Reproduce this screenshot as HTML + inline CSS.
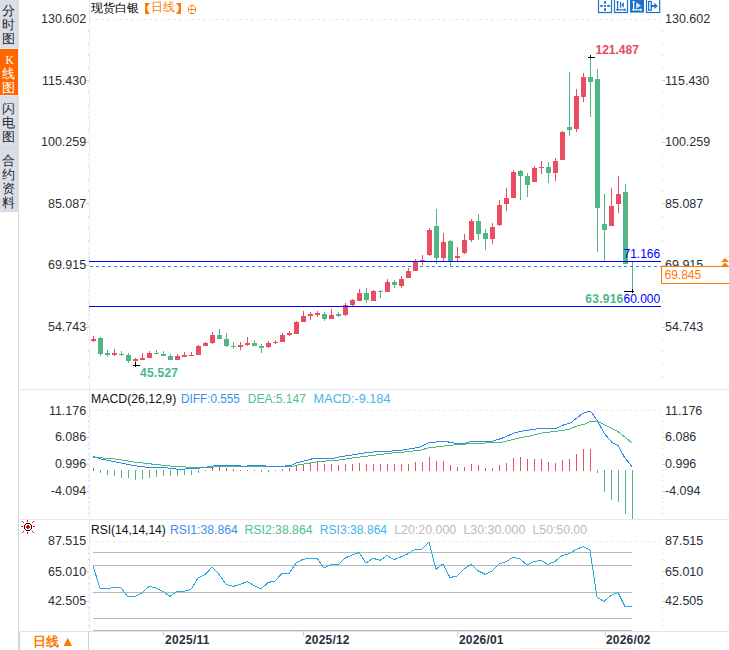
<!DOCTYPE html>
<html><head><meta charset="utf-8">
<style>
html,body{margin:0;padding:0;width:729px;height:650px;overflow:hidden;background:#fff;}
body{font-family:"Liberation Sans",sans-serif;position:relative;}
.sc{position:absolute;left:0;width:17px;text-align:center;font-size:13px;line-height:14.15px;color:#232833;font-weight:500;}
svg{position:absolute;left:0;top:0;}
</style></head><body>
<div style="position:absolute;left:0;top:0;width:19px;height:48px;background:#dcdee6"></div>
<div style="position:absolute;left:0;top:48px;width:19px;height:1px;background:#e6edf6"></div>
<div style="position:absolute;left:0;top:49px;width:18px;height:46px;background:#ff6600"></div>
<div style="position:absolute;left:18px;top:49px;width:1px;height:46px;background:#e8f0fa"></div>
<div style="position:absolute;left:0;top:95px;width:19px;height:1px;background:#e6edf6"></div>
<div style="position:absolute;left:0;top:96px;width:19px;height:51px;background:#dcdee6"></div>
<div style="position:absolute;left:0;top:147px;width:19px;height:1px;background:#cdd5df"></div>
<div style="position:absolute;left:0;top:148px;width:19px;height:63px;background:#dcdee6"></div>
<div class="sc" style="top:4px;">分<br>时<br>图</div>
<div class="sc" style="top:66.6px;color:#fff">线<br>图</div>
<div style="position:absolute;left:5.5px;top:53px;font-family:'Liberation Serif',serif;font-size:11.5px;line-height:14px;color:#fff;font-weight:normal">K</div>
<div class="sc" style="top:101.6px;">闪<br>电<br>图</div>
<div class="sc" style="top:153.7px;">合<br>约<br>资<br>料</div>
<svg width="729" height="650" viewBox="0 0 729 650" shape-rendering="crispEdges">
<!-- frame lines -->
<rect x="0" y="211" width="19" height="1" fill="#d3dae3"/><rect x="18" y="211" width="1" height="439" fill="#d3dae3"/>
<rect x="18" y="389" width="711" height="1" fill="#e6ebf1"/>
<rect x="18" y="519" width="711" height="1" fill="#e6ebf1"/>
<rect x="89" y="0" width="1" height="631" fill="#e6ecf3"/>
<rect x="18" y="631" width="711" height="1" fill="#dde3ea"/>
<rect x="88" y="631" width="1" height="19" fill="#c8d0db"/>
<rect x="521" y="648" width="113" height="1" fill="#eef1f5"/>
<!-- grid dashed -->
<g stroke="#e8ecf2" stroke-width="1" stroke-dasharray="3 3">
<line x1="89" y1="19.5" x2="661" y2="19.5"/>
<line x1="89" y1="410.5" x2="661" y2="410.5"/>
<line x1="89" y1="541.5" x2="661" y2="541.5"/>
</g>
<rect x="88" y="31" width="1" height="1" fill="#c9d0d8"/>
<rect x="662" y="31" width="1" height="1" fill="#c9d0d8"/>
<rect x="88" y="43" width="1" height="1" fill="#c9d0d8"/>
<rect x="662" y="43" width="1" height="1" fill="#c9d0d8"/>
<rect x="88" y="55" width="1" height="1" fill="#c9d0d8"/>
<rect x="662" y="55" width="1" height="1" fill="#c9d0d8"/>
<rect x="88" y="68" width="1" height="1" fill="#c9d0d8"/>
<rect x="662" y="68" width="1" height="1" fill="#c9d0d8"/>
<rect x="86" y="80" width="3" height="1" fill="#c9d0d8"/>
<rect x="662" y="80" width="3" height="1" fill="#c9d0d8"/>
<rect x="88" y="92" width="1" height="1" fill="#c9d0d8"/>
<rect x="662" y="92" width="1" height="1" fill="#c9d0d8"/>
<rect x="88" y="105" width="1" height="1" fill="#c9d0d8"/>
<rect x="662" y="105" width="1" height="1" fill="#c9d0d8"/>
<rect x="88" y="117" width="1" height="1" fill="#c9d0d8"/>
<rect x="662" y="117" width="1" height="1" fill="#c9d0d8"/>
<rect x="88" y="129" width="1" height="1" fill="#c9d0d8"/>
<rect x="662" y="129" width="1" height="1" fill="#c9d0d8"/>
<rect x="86" y="142" width="3" height="1" fill="#c9d0d8"/>
<rect x="662" y="142" width="3" height="1" fill="#c9d0d8"/>
<rect x="88" y="154" width="1" height="1" fill="#c9d0d8"/>
<rect x="662" y="154" width="1" height="1" fill="#c9d0d8"/>
<rect x="88" y="166" width="1" height="1" fill="#c9d0d8"/>
<rect x="662" y="166" width="1" height="1" fill="#c9d0d8"/>
<rect x="88" y="179" width="1" height="1" fill="#c9d0d8"/>
<rect x="662" y="179" width="1" height="1" fill="#c9d0d8"/>
<rect x="88" y="191" width="1" height="1" fill="#c9d0d8"/>
<rect x="662" y="191" width="1" height="1" fill="#c9d0d8"/>
<rect x="86" y="203" width="3" height="1" fill="#c9d0d8"/>
<rect x="662" y="203" width="3" height="1" fill="#c9d0d8"/>
<rect x="88" y="216" width="1" height="1" fill="#c9d0d8"/>
<rect x="662" y="216" width="1" height="1" fill="#c9d0d8"/>
<rect x="88" y="228" width="1" height="1" fill="#c9d0d8"/>
<rect x="662" y="228" width="1" height="1" fill="#c9d0d8"/>
<rect x="88" y="240" width="1" height="1" fill="#c9d0d8"/>
<rect x="662" y="240" width="1" height="1" fill="#c9d0d8"/>
<rect x="88" y="253" width="1" height="1" fill="#c9d0d8"/>
<rect x="662" y="253" width="1" height="1" fill="#c9d0d8"/>
<rect x="86" y="265" width="3" height="1" fill="#c9d0d8"/>
<rect x="662" y="265" width="3" height="1" fill="#c9d0d8"/>
<rect x="88" y="277" width="1" height="1" fill="#c9d0d8"/>
<rect x="662" y="277" width="1" height="1" fill="#c9d0d8"/>
<rect x="88" y="290" width="1" height="1" fill="#c9d0d8"/>
<rect x="662" y="290" width="1" height="1" fill="#c9d0d8"/>
<rect x="88" y="302" width="1" height="1" fill="#c9d0d8"/>
<rect x="662" y="302" width="1" height="1" fill="#c9d0d8"/>
<rect x="88" y="314" width="1" height="1" fill="#c9d0d8"/>
<rect x="662" y="314" width="1" height="1" fill="#c9d0d8"/>
<rect x="86" y="327" width="3" height="1" fill="#c9d0d8"/>
<rect x="662" y="327" width="3" height="1" fill="#c9d0d8"/>
<rect x="88" y="339" width="1" height="1" fill="#c9d0d8"/>
<rect x="662" y="339" width="1" height="1" fill="#c9d0d8"/>
<rect x="88" y="351" width="1" height="1" fill="#c9d0d8"/>
<rect x="662" y="351" width="1" height="1" fill="#c9d0d8"/>
<rect x="88" y="363" width="1" height="1" fill="#c9d0d8"/>
<rect x="662" y="363" width="1" height="1" fill="#c9d0d8"/>
<rect x="88" y="376" width="1" height="1" fill="#c9d0d8"/>
<rect x="662" y="376" width="1" height="1" fill="#c9d0d8"/>
<rect x="88" y="416" width="1" height="1" fill="#c9d0d8"/>
<rect x="662" y="416" width="1" height="1" fill="#c9d0d8"/>
<rect x="88" y="421" width="1" height="1" fill="#c9d0d8"/>
<rect x="662" y="421" width="1" height="1" fill="#c9d0d8"/>
<rect x="88" y="426" width="1" height="1" fill="#c9d0d8"/>
<rect x="662" y="426" width="1" height="1" fill="#c9d0d8"/>
<rect x="88" y="432" width="1" height="1" fill="#c9d0d8"/>
<rect x="662" y="432" width="1" height="1" fill="#c9d0d8"/>
<rect x="86" y="437" width="3" height="1" fill="#c9d0d8"/>
<rect x="662" y="437" width="3" height="1" fill="#c9d0d8"/>
<rect x="88" y="443" width="1" height="1" fill="#c9d0d8"/>
<rect x="662" y="443" width="1" height="1" fill="#c9d0d8"/>
<rect x="88" y="448" width="1" height="1" fill="#c9d0d8"/>
<rect x="662" y="448" width="1" height="1" fill="#c9d0d8"/>
<rect x="88" y="454" width="1" height="1" fill="#c9d0d8"/>
<rect x="662" y="454" width="1" height="1" fill="#c9d0d8"/>
<rect x="88" y="459" width="1" height="1" fill="#c9d0d8"/>
<rect x="662" y="459" width="1" height="1" fill="#c9d0d8"/>
<rect x="86" y="464" width="3" height="1" fill="#c9d0d8"/>
<rect x="662" y="464" width="3" height="1" fill="#c9d0d8"/>
<rect x="88" y="470" width="1" height="1" fill="#c9d0d8"/>
<rect x="662" y="470" width="1" height="1" fill="#c9d0d8"/>
<rect x="88" y="475" width="1" height="1" fill="#c9d0d8"/>
<rect x="662" y="475" width="1" height="1" fill="#c9d0d8"/>
<rect x="88" y="480" width="1" height="1" fill="#c9d0d8"/>
<rect x="662" y="480" width="1" height="1" fill="#c9d0d8"/>
<rect x="88" y="486" width="1" height="1" fill="#c9d0d8"/>
<rect x="662" y="486" width="1" height="1" fill="#c9d0d8"/>
<rect x="86" y="491" width="3" height="1" fill="#c9d0d8"/>
<rect x="662" y="491" width="3" height="1" fill="#c9d0d8"/>
<rect x="88" y="497" width="1" height="1" fill="#c9d0d8"/>
<rect x="662" y="497" width="1" height="1" fill="#c9d0d8"/>
<rect x="88" y="502" width="1" height="1" fill="#c9d0d8"/>
<rect x="662" y="502" width="1" height="1" fill="#c9d0d8"/>
<rect x="88" y="508" width="1" height="1" fill="#c9d0d8"/>
<rect x="662" y="508" width="1" height="1" fill="#c9d0d8"/>
<rect x="88" y="513" width="1" height="1" fill="#c9d0d8"/>
<rect x="662" y="513" width="1" height="1" fill="#c9d0d8"/>
<rect x="88" y="547" width="1" height="1" fill="#c9d0d8"/>
<rect x="662" y="547" width="1" height="1" fill="#c9d0d8"/>
<rect x="88" y="553" width="1" height="1" fill="#c9d0d8"/>
<rect x="662" y="553" width="1" height="1" fill="#c9d0d8"/>
<rect x="88" y="559" width="1" height="1" fill="#c9d0d8"/>
<rect x="662" y="559" width="1" height="1" fill="#c9d0d8"/>
<rect x="88" y="565" width="1" height="1" fill="#c9d0d8"/>
<rect x="662" y="565" width="1" height="1" fill="#c9d0d8"/>
<rect x="86" y="571" width="3" height="1" fill="#c9d0d8"/>
<rect x="662" y="571" width="3" height="1" fill="#c9d0d8"/>
<rect x="88" y="577" width="1" height="1" fill="#c9d0d8"/>
<rect x="662" y="577" width="1" height="1" fill="#c9d0d8"/>
<rect x="88" y="583" width="1" height="1" fill="#c9d0d8"/>
<rect x="662" y="583" width="1" height="1" fill="#c9d0d8"/>
<rect x="88" y="589" width="1" height="1" fill="#c9d0d8"/>
<rect x="662" y="589" width="1" height="1" fill="#c9d0d8"/>
<rect x="88" y="595" width="1" height="1" fill="#c9d0d8"/>
<rect x="662" y="595" width="1" height="1" fill="#c9d0d8"/>
<rect x="86" y="601" width="3" height="1" fill="#c9d0d8"/>
<rect x="662" y="601" width="3" height="1" fill="#c9d0d8"/>
<rect x="88" y="607" width="1" height="1" fill="#c9d0d8"/>
<rect x="662" y="607" width="1" height="1" fill="#c9d0d8"/>
<rect x="88" y="613" width="1" height="1" fill="#c9d0d8"/>
<rect x="662" y="613" width="1" height="1" fill="#c9d0d8"/>
<rect x="88" y="619" width="1" height="1" fill="#c9d0d8"/>
<rect x="662" y="619" width="1" height="1" fill="#c9d0d8"/>
<rect x="88" y="625" width="1" height="1" fill="#c9d0d8"/>
<rect x="662" y="625" width="1" height="1" fill="#c9d0d8"/>
<!-- candles -->
<rect x="93" y="336" width="1" height="6" fill="#ea4d62"/>
<rect x="91" y="339" width="5" height="2" fill="#ea4d62"/>
<rect x="100" y="337" width="1" height="19" fill="#50b686"/>
<rect x="98" y="338" width="5" height="16" fill="#50b686"/>
<rect x="107" y="350" width="1" height="7" fill="#50b686"/>
<rect x="105" y="353" width="5" height="2" fill="#50b686"/>
<rect x="114" y="349" width="1" height="7" fill="#ea4d62"/>
<rect x="112" y="353" width="5" height="2" fill="#ea4d62"/>
<rect x="121" y="351" width="1" height="5" fill="#50b686"/>
<rect x="119" y="353.5" width="5" height="1" fill="#50b686"/>
<rect x="128" y="353" width="1" height="10" fill="#50b686"/>
<rect x="126" y="355" width="5" height="6" fill="#50b686"/>
<rect x="135" y="358" width="1" height="4" fill="#ea4d62"/>
<rect x="133" y="359" width="5" height="2" fill="#ea4d62"/>
<rect x="142" y="353" width="1" height="7" fill="#ea4d62"/>
<rect x="140" y="358" width="5" height="2" fill="#ea4d62"/>
<rect x="149" y="351" width="1" height="7" fill="#ea4d62"/>
<rect x="147" y="353" width="5" height="5" fill="#ea4d62"/>
<rect x="156" y="350" width="1" height="4" fill="#50b686"/>
<rect x="154" y="353" width="5" height="1" fill="#50b686"/>
<rect x="163" y="351" width="1" height="5" fill="#50b686"/>
<rect x="161" y="354" width="5" height="2" fill="#50b686"/>
<rect x="170" y="354" width="1" height="6" fill="#50b686"/>
<rect x="168" y="356" width="5" height="4" fill="#50b686"/>
<rect x="177" y="354" width="1" height="6" fill="#ea4d62"/>
<rect x="175" y="356" width="5" height="4" fill="#ea4d62"/>
<rect x="184" y="352" width="1" height="5" fill="#ea4d62"/>
<rect x="182" y="355" width="5" height="2" fill="#ea4d62"/>
<rect x="191" y="352" width="1" height="4" fill="#ea4d62"/>
<rect x="189" y="355" width="5" height="1" fill="#ea4d62"/>
<rect x="198" y="345" width="1" height="10" fill="#ea4d62"/>
<rect x="196" y="346" width="5" height="9" fill="#ea4d62"/>
<rect x="205" y="342" width="1" height="4" fill="#ea4d62"/>
<rect x="203" y="343" width="5" height="3" fill="#ea4d62"/>
<rect x="212" y="332" width="1" height="12" fill="#ea4d62"/>
<rect x="210" y="335" width="5" height="8" fill="#ea4d62"/>
<rect x="219" y="329" width="1" height="10" fill="#50b686"/>
<rect x="217" y="335" width="5" height="4" fill="#50b686"/>
<rect x="226" y="333" width="1" height="14" fill="#50b686"/>
<rect x="224" y="339" width="5" height="7" fill="#50b686"/>
<rect x="233" y="342" width="1" height="7" fill="#50b686"/>
<rect x="231" y="346" width="5" height="1" fill="#50b686"/>
<rect x="240" y="342" width="1" height="8" fill="#ea4d62"/>
<rect x="238" y="345" width="5" height="2" fill="#ea4d62"/>
<rect x="247" y="337" width="1" height="9" fill="#ea4d62"/>
<rect x="245" y="343" width="5" height="2" fill="#ea4d62"/>
<rect x="254" y="340" width="1" height="6" fill="#50b686"/>
<rect x="252" y="343" width="5" height="3" fill="#50b686"/>
<rect x="261" y="344" width="1" height="9" fill="#50b686"/>
<rect x="259" y="346" width="5" height="2" fill="#50b686"/>
<rect x="268" y="341" width="1" height="7" fill="#ea4d62"/>
<rect x="266" y="343" width="5" height="4" fill="#ea4d62"/>
<rect x="275" y="340" width="1" height="4" fill="#ea4d62"/>
<rect x="273" y="342" width="5" height="1" fill="#ea4d62"/>
<rect x="282" y="333" width="1" height="9" fill="#ea4d62"/>
<rect x="280" y="335" width="5" height="7" fill="#ea4d62"/>
<rect x="289" y="331" width="1" height="5" fill="#ea4d62"/>
<rect x="287" y="333" width="5" height="2" fill="#ea4d62"/>
<rect x="296" y="321" width="1" height="13" fill="#ea4d62"/>
<rect x="294" y="322" width="5" height="12" fill="#ea4d62"/>
<rect x="303" y="311" width="1" height="11" fill="#ea4d62"/>
<rect x="301" y="316" width="5" height="6" fill="#ea4d62"/>
<rect x="310" y="312" width="1" height="8" fill="#ea4d62"/>
<rect x="308" y="314" width="5" height="2" fill="#ea4d62"/>
<rect x="317" y="311" width="1" height="6" fill="#ea4d62"/>
<rect x="315" y="313" width="5" height="2" fill="#ea4d62"/>
<rect x="324" y="312" width="1" height="9" fill="#50b686"/>
<rect x="322" y="314" width="5" height="5" fill="#50b686"/>
<rect x="331" y="309" width="1" height="10" fill="#ea4d62"/>
<rect x="329" y="315" width="5" height="4" fill="#ea4d62"/>
<rect x="338" y="312" width="1" height="5" fill="#50b686"/>
<rect x="336" y="314" width="5" height="2" fill="#50b686"/>
<rect x="345" y="303" width="1" height="13" fill="#ea4d62"/>
<rect x="343" y="305" width="5" height="10" fill="#ea4d62"/>
<rect x="352" y="299" width="1" height="7" fill="#ea4d62"/>
<rect x="350" y="300" width="5" height="5" fill="#ea4d62"/>
<rect x="359" y="289" width="1" height="12" fill="#ea4d62"/>
<rect x="357" y="293" width="5" height="8" fill="#ea4d62"/>
<rect x="366" y="288" width="1" height="15" fill="#50b686"/>
<rect x="364" y="293" width="5" height="7" fill="#50b686"/>
<rect x="373" y="290" width="1" height="11" fill="#ea4d62"/>
<rect x="371" y="291" width="5" height="10" fill="#ea4d62"/>
<rect x="380" y="290" width="1" height="8" fill="#50b686"/>
<rect x="378" y="291" width="5" height="1" fill="#50b686"/>
<rect x="387" y="279" width="1" height="13" fill="#ea4d62"/>
<rect x="385" y="282" width="5" height="10" fill="#ea4d62"/>
<rect x="394" y="280" width="1" height="8" fill="#50b686"/>
<rect x="392" y="282" width="5" height="3" fill="#50b686"/>
<rect x="401" y="276" width="1" height="12" fill="#ea4d62"/>
<rect x="399" y="279" width="5" height="7" fill="#ea4d62"/>
<rect x="408" y="268" width="1" height="10" fill="#ea4d62"/>
<rect x="406" y="271" width="5" height="7" fill="#ea4d62"/>
<rect x="415" y="259" width="1" height="12" fill="#ea4d62"/>
<rect x="413" y="261.5" width="5" height="9.5" fill="#ea4d62"/>
<rect x="422" y="255" width="1" height="10" fill="#ea4d62"/>
<rect x="420" y="260" width="5" height="1" fill="#ea4d62"/>
<rect x="429" y="228" width="1" height="28" fill="#ea4d62"/>
<rect x="427" y="230" width="5" height="25" fill="#ea4d62"/>
<rect x="436" y="209" width="1" height="55" fill="#50b686"/>
<rect x="434" y="226" width="5" height="32" fill="#50b686"/>
<rect x="443" y="233" width="1" height="28" fill="#ea4d62"/>
<rect x="441" y="242" width="5" height="16" fill="#ea4d62"/>
<rect x="450" y="240" width="1" height="26" fill="#50b686"/>
<rect x="448" y="241" width="5" height="20" fill="#50b686"/>
<rect x="457" y="247" width="1" height="14" fill="#ea4d62"/>
<rect x="455" y="256" width="5" height="2" fill="#ea4d62"/>
<rect x="464" y="234" width="1" height="20" fill="#ea4d62"/>
<rect x="462" y="240" width="5" height="13" fill="#ea4d62"/>
<rect x="471" y="219" width="1" height="23" fill="#ea4d62"/>
<rect x="469" y="221" width="5" height="19" fill="#ea4d62"/>
<rect x="478" y="214" width="1" height="26" fill="#50b686"/>
<rect x="476" y="221" width="5" height="13" fill="#50b686"/>
<rect x="485" y="229" width="1" height="21" fill="#50b686"/>
<rect x="483" y="233" width="5" height="6" fill="#50b686"/>
<rect x="492" y="223" width="1" height="21" fill="#ea4d62"/>
<rect x="490" y="227" width="5" height="12" fill="#ea4d62"/>
<rect x="499" y="200" width="1" height="26" fill="#ea4d62"/>
<rect x="497" y="205" width="5" height="20" fill="#ea4d62"/>
<rect x="506" y="188" width="1" height="23" fill="#ea4d62"/>
<rect x="504" y="198" width="5" height="6" fill="#ea4d62"/>
<rect x="513" y="170" width="1" height="28" fill="#ea4d62"/>
<rect x="511" y="172" width="5" height="26" fill="#ea4d62"/>
<rect x="520" y="170" width="1" height="30" fill="#50b686"/>
<rect x="518" y="171" width="5" height="5" fill="#50b686"/>
<rect x="527" y="173" width="1" height="24" fill="#50b686"/>
<rect x="525" y="176" width="5" height="9" fill="#50b686"/>
<rect x="534" y="166" width="1" height="16" fill="#ea4d62"/>
<rect x="532" y="168" width="5" height="14" fill="#ea4d62"/>
<rect x="541" y="161" width="1" height="13" fill="#ea4d62"/>
<rect x="539" y="167" width="5" height="1" fill="#ea4d62"/>
<rect x="548" y="162" width="1" height="21" fill="#50b686"/>
<rect x="546" y="167" width="5" height="6" fill="#50b686"/>
<rect x="555" y="158" width="1" height="23" fill="#ea4d62"/>
<rect x="553" y="161" width="5" height="12" fill="#ea4d62"/>
<rect x="562" y="131" width="1" height="29" fill="#ea4d62"/>
<rect x="560" y="132" width="5" height="28" fill="#ea4d62"/>
<rect x="569" y="72" width="1" height="64" fill="#50b686"/>
<rect x="567" y="127" width="5" height="3" fill="#50b686"/>
<rect x="576" y="89" width="1" height="43" fill="#ea4d62"/>
<rect x="574" y="96" width="5" height="33" fill="#ea4d62"/>
<rect x="583" y="73" width="1" height="29" fill="#ea4d62"/>
<rect x="581" y="77" width="5" height="20" fill="#ea4d62"/>
<rect x="590" y="56" width="1" height="61" fill="#50b686"/>
<rect x="588" y="77" width="5" height="5" fill="#50b686"/>
<rect x="597" y="69" width="1" height="183" fill="#50b686"/>
<rect x="595" y="79" width="5" height="129" fill="#50b686"/>
<rect x="604" y="194" width="1" height="67" fill="#50b686"/>
<rect x="602" y="224" width="5" height="6" fill="#50b686"/>
<rect x="611" y="188" width="1" height="38" fill="#ea4d62"/>
<rect x="609" y="206" width="5" height="20" fill="#ea4d62"/>
<rect x="618" y="176" width="1" height="37" fill="#ea4d62"/>
<rect x="616" y="194" width="5" height="10" fill="#ea4d62"/>
<rect x="625" y="184" width="1" height="80" fill="#50b686"/>
<rect x="623" y="192" width="5" height="72" fill="#50b686"/>
<rect x="632" y="262" width="1" height="27" fill="#50b686"/>
<!-- price lines -->
<rect x="89" y="261" width="572" height="1" fill="#0000ff"/>
<rect x="89" y="306" width="572" height="1" fill="#0000ff"/>
<line x1="90" y1="266.5" x2="661" y2="266.5" stroke="#1e8cff" stroke-width="1" stroke-dasharray="3 3"/>
<!-- markers -->
<rect x="590" y="57" width="1" height="1" fill="#000"/>
<rect x="588" y="57" width="7" height="1" fill="#000"/>
<rect x="590" y="55" width="1" height="3" fill="#000"/>
<rect x="133" y="365" width="7" height="1" fill="#000"/>
<rect x="135" y="362" width="1" height="5" fill="#000"/>
<rect x="624" y="291" width="10" height="1" fill="#000"/>
<rect x="632" y="289" width="1" height="4" fill="#000"/>
<!-- histogram -->
<rect x="93" y="467.7" width="1" height="3.3" fill="#ea4d62"/>
<rect x="100" y="470" width="1" height="3" fill="#50b686"/>
<rect x="107" y="470" width="1" height="4.8" fill="#50b686"/>
<rect x="114" y="470" width="1" height="6.4" fill="#50b686"/>
<rect x="121" y="470" width="1" height="7.9" fill="#50b686"/>
<rect x="128" y="470" width="1" height="8.4" fill="#50b686"/>
<rect x="135" y="470" width="1" height="9.6" fill="#50b686"/>
<rect x="142" y="470" width="1" height="9" fill="#50b686"/>
<rect x="149" y="470" width="1" height="7.9" fill="#50b686"/>
<rect x="156" y="470" width="1" height="6.8" fill="#50b686"/>
<rect x="163" y="470" width="1" height="6" fill="#50b686"/>
<rect x="170" y="470" width="1" height="6" fill="#50b686"/>
<rect x="177" y="470" width="1" height="6" fill="#50b686"/>
<rect x="184" y="470" width="1" height="5" fill="#50b686"/>
<rect x="191" y="470" width="1" height="4.6" fill="#50b686"/>
<rect x="198" y="470" width="1" height="3" fill="#50b686"/>
<rect x="205" y="470" width="1" height="1" fill="#ea4d62"/>
<rect x="212" y="467.8" width="1" height="3.2" fill="#ea4d62"/>
<rect x="219" y="467.1" width="1" height="3.9" fill="#ea4d62"/>
<rect x="226" y="467.9" width="1" height="3.1" fill="#ea4d62"/>
<rect x="233" y="469" width="1" height="2" fill="#ea4d62"/>
<rect x="240" y="470" width="1" height="1" fill="#ea4d62"/>
<rect x="247" y="470" width="1" height="1" fill="#ea4d62"/>
<rect x="254" y="470" width="1" height="1" fill="#ea4d62"/>
<rect x="261" y="470" width="1" height="2" fill="#50b686"/>
<rect x="268" y="470" width="1" height="2" fill="#50b686"/>
<rect x="275" y="470" width="1" height="1" fill="#50b686"/>
<rect x="282" y="469" width="1" height="2" fill="#ea4d62"/>
<rect x="289" y="467.9" width="1" height="3.1" fill="#ea4d62"/>
<rect x="296" y="465.7" width="1" height="5.3" fill="#ea4d62"/>
<rect x="303" y="464" width="1" height="7" fill="#ea4d62"/>
<rect x="310" y="463" width="1" height="8" fill="#ea4d62"/>
<rect x="317" y="462" width="1" height="9" fill="#ea4d62"/>
<rect x="324" y="464" width="1" height="7" fill="#ea4d62"/>
<rect x="331" y="464" width="1" height="7" fill="#ea4d62"/>
<rect x="338" y="465" width="1" height="6" fill="#ea4d62"/>
<rect x="345" y="464.3" width="1" height="6.7" fill="#ea4d62"/>
<rect x="352" y="464.3" width="1" height="6.7" fill="#ea4d62"/>
<rect x="359" y="463.2" width="1" height="7.8" fill="#ea4d62"/>
<rect x="366" y="464.3" width="1" height="6.7" fill="#ea4d62"/>
<rect x="373" y="464.3" width="1" height="6.7" fill="#ea4d62"/>
<rect x="380" y="464.3" width="1" height="6.7" fill="#ea4d62"/>
<rect x="387" y="464.3" width="1" height="6.7" fill="#ea4d62"/>
<rect x="394" y="464.3" width="1" height="6.7" fill="#ea4d62"/>
<rect x="401" y="464.3" width="1" height="6.7" fill="#ea4d62"/>
<rect x="408" y="464.3" width="1" height="6.7" fill="#ea4d62"/>
<rect x="415" y="462.3" width="1" height="8.7" fill="#ea4d62"/>
<rect x="422" y="462.3" width="1" height="8.7" fill="#ea4d62"/>
<rect x="429" y="457.1" width="1" height="13.9" fill="#ea4d62"/>
<rect x="436" y="461" width="1" height="10" fill="#ea4d62"/>
<rect x="443" y="461" width="1" height="10" fill="#ea4d62"/>
<rect x="450" y="465.2" width="1" height="5.8" fill="#ea4d62"/>
<rect x="457" y="467.3" width="1" height="3.7" fill="#ea4d62"/>
<rect x="464" y="467.2" width="1" height="3.8" fill="#ea4d62"/>
<rect x="471" y="463.9" width="1" height="7.1" fill="#ea4d62"/>
<rect x="478" y="465.2" width="1" height="5.8" fill="#ea4d62"/>
<rect x="485" y="467.9" width="1" height="3.1" fill="#ea4d62"/>
<rect x="492" y="467.9" width="1" height="3.1" fill="#ea4d62"/>
<rect x="499" y="465.2" width="1" height="5.8" fill="#ea4d62"/>
<rect x="506" y="462.9" width="1" height="8.1" fill="#ea4d62"/>
<rect x="513" y="458" width="1" height="13" fill="#ea4d62"/>
<rect x="520" y="457.1" width="1" height="13.9" fill="#ea4d62"/>
<rect x="527" y="458.9" width="1" height="12.1" fill="#ea4d62"/>
<rect x="534" y="458.9" width="1" height="12.1" fill="#ea4d62"/>
<rect x="541" y="458.9" width="1" height="12.1" fill="#ea4d62"/>
<rect x="548" y="462.1" width="1" height="8.9" fill="#ea4d62"/>
<rect x="555" y="462.9" width="1" height="8.1" fill="#ea4d62"/>
<rect x="562" y="460.2" width="1" height="10.8" fill="#ea4d62"/>
<rect x="569" y="458.9" width="1" height="12.1" fill="#ea4d62"/>
<rect x="576" y="453.9" width="1" height="17.1" fill="#ea4d62"/>
<rect x="583" y="448.9" width="1" height="22.1" fill="#ea4d62"/>
<rect x="590" y="448.9" width="1" height="22.1" fill="#ea4d62"/>
<rect x="597" y="470" width="1" height="2.9" fill="#50b686"/>
<rect x="604" y="470" width="1" height="21.7" fill="#50b686"/>
<rect x="611" y="470" width="1" height="29.6" fill="#50b686"/>
<rect x="618" y="470" width="1" height="31.5" fill="#50b686"/>
<rect x="625" y="470" width="1" height="43.5" fill="#50b686"/>
<rect x="632" y="470" width="1" height="48.5" fill="#50b686"/>
<!-- RSI levels -->
<g fill="#b8b8b8">
<rect x="93" y="552" width="539" height="1"/>
<rect x="93" y="565" width="539" height="1"/>
<rect x="93" y="592" width="539" height="1"/>
<rect x="93" y="618" width="539" height="1"/>
<rect x="93" y="630" width="539" height="1"/>
</g>
<g shape-rendering="crispEdges" fill="none" stroke-width="1" stroke-linejoin="round">
<polyline points="93.4,457.3 105.9,458.2 118.4,459.3 132.6,461.8 152.3,464.1 173.7,466.4 188,467.1 213,467.1 217,466.6 292,466.6 299,464.8 310,463 320.7,461.2 335,460.7 342,459.6 349.3,458.4 363.6,456.6 377.9,454.8 392,453 406.4,451.8 420.7,450 429.6,447.7 442,446.3 449.3,445.4 461.8,444.1 474.3,443.8 492,442.5 502.9,442 519,437.9 531.4,435.7 542,433 556.4,431.2 569,429.5 577.9,425.5 583.8,424.5 590.3,421.6 597.7,421.6 606.9,425.8 618.3,431.7 623.5,436 631.8,442.8" stroke="#47b97a"/>
<polyline points="93.4,456.6 102.3,459.3 111.2,461 120.1,462.9 132.6,465.4 146.9,467.3 164.8,467.7 177.3,469.1 193.4,468.9 202.3,467.7 210,466.6 216,465.5 237,465.5 244,466.5 251,465.5 280,466.5 291,465.5 295.7,463 306.4,460.4 314.5,458.2 335,458.2 336.8,457.3 342,456.6 349,455.4 356.4,454.3 363.6,453 370.7,452.1 385,451.4 397.5,450.7 406.4,449.5 413.6,448.2 420.7,446.8 424.3,445 429.6,442.3 440.4,441.8 444,441.1 447.5,441.8 454.6,443.2 465,443.2 470.7,441.4 492,441.4 502.9,437.9 515.4,432.5 524.3,430.7 538.6,428.6 556.4,428.2 563.6,425 570.7,422.9 577.4,417.5 582.9,413.3 589.4,411.4 591.2,412 597.7,421.2 604.1,433.2 612.4,442.8 618.3,445.8 624.4,457.2 631.8,466.4" stroke="#2f86f0"/>
<polyline points="93,566 100,588 107,589 114,587.3 121,588 128,597 135,596.3 142,593 149,586.4 156,588 163,591.4 170,596.4 177,591.4 184,591.4 191,589.3 198,578 205,574.5 212,567.2 219,574.3 226,584.3 233,586.4 240,584.6 247,581.4 254,585.5 261,589.1 268,582.5 275,581.1 282,573.4 289,573.4 296,562.9 303,559.3 310,558.2 317,558.2 324,568.2 331,564.5 338,565 345,558.2 352,555 359,552.5 366,563.2 373,558.2 380,560.4 387,555.5 394,559.6 401,556.8 408,553.8 415,549.3 422,549.3 429,542.1 436,569.3 443,563.9 450,577.5 457,576.1 464,568.9 471,564.5 478,570.7 485,574.3 492,571.1 499,563.9 506,561.8 513,557.3 520,559.1 527,565 534,561.4 541,560.4 548,564.5 555,561.4 562,555.5 569,553.8 576,549.5 583,546.5 590,550.1 597,597.3 604,601.4 611,595.5 618,592.4 625,606.4 632,606.4" stroke="#29a9e0"/>
</g>
<!-- date ticks -->
<g fill="#c9d0d8">
<rect x="163" y="631" width="1" height="5"/>
<rect x="303" y="631" width="1" height="5"/>
<rect x="457" y="631" width="1" height="5"/>
<rect x="605" y="631" width="1" height="5"/>
</g>
<!-- icons -->
<g shape-rendering="auto">
<rect x="598.5" y="-2" width="13" height="14.5" fill="#fff" stroke="#1c72c8" stroke-width="1.2"/>
<g fill="#1c72c8"><rect x="604" y="1.2" width="2" height="2.4"/><rect x="604" y="5" width="2" height="1.8"/><rect x="604" y="8.2" width="2" height="2.6"/><rect x="600.2" y="5" width="2.6" height="1.8"/><rect x="607.2" y="5" width="2.8" height="1.8"/></g>
<rect x="614.5" y="-2" width="13" height="14.5" fill="#fff" stroke="#1c72c8" stroke-width="1.2"/>
<g fill="#1c72c8"><rect x="617" y="1.5" width="1.2" height="9"/><path d="M615.8 2.6 L617.6 0.8 L619.4 2.6Z"/><rect x="616" y="9.2" width="9" height="1.2"/><path d="M624.5 8 L626.3 9.8 L624.5 11.6Z"/>
<rect x="620" y="2" width="1.2" height="5.8"/><path d="M623.8 2 L621.4 4.9 L623.8 7.8Z"/></g>
<rect x="630" y="-2" width="14" height="14.6" fill="#1c72c8"/>
<g fill="#fff"><rect x="633" y="1.5" width="1.2" height="9"/><path d="M631.8 2.6 L633.6 0.8 L635.4 2.6Z"/><rect x="632" y="9.2" width="9" height="1.2"/><path d="M640.5 8 L642.3 9.8 L640.5 11.6Z"/>
<path d="M636.2 2.4 L641 5.6 L636.2 8.8Z" fill="#dbe8f7"/></g>
<rect x="646.5" y="-2" width="13.2" height="14.5" fill="#fff" stroke="#1c72c8" stroke-width="1.2"/>
<g fill="#1c72c8"><rect x="648.6" y="1.5" width="2.7" height="8.7" fill="none" stroke="#1c72c8" stroke-width="1.2"/><rect x="650.5" y="4.9" width="4.5" height="2"/><path d="M654.4 2.8 L657.8 5.9 L654.4 9Z"/></g>
<g shape-rendering="crispEdges"><rect x="191" y="6" width="1" height="7" fill="#ffb36b"/><rect x="190" y="5" width="4" height="1" fill="#ff7a00"/><rect x="189" y="6" width="1" height="1" fill="#ff9a50"/><rect x="194" y="6" width="1" height="1" fill="#ff9a50"/><rect x="188" y="7" width="1" height="5" fill="#ff9440"/><rect x="195" y="7" width="1" height="5" fill="#ff9440"/><rect x="189" y="12" width="1" height="1" fill="#ff9a50"/><rect x="194" y="12" width="1" height="1" fill="#ff9a50"/><rect x="190" y="13" width="4" height="1" fill="#ff7a00"/><rect x="188" y="9" width="8" height="1" fill="#ff7a00"/></g>
<!-- orange price box -->
<path d="M721 261.9 L725 257.9 L729 261.9Z M721.2 266.3 L725 262.5 L728.8 266.3Z" fill="#ff7a00"/>
</g>
<g font-family="Liberation Sans, sans-serif" font-size="12.5" fill="#2b2f3a" shape-rendering="auto">
<g text-anchor="end">
<text x="86.2" y="23">130.602</text>
<text x="86.2" y="84.6">115.430</text>
<text x="86.2" y="146.2">100.259</text>
<text x="86.2" y="207.8">85.087</text>
<text x="86.2" y="269.4">69.915</text>
<text x="86.2" y="331">54.743</text>
<text x="86.2" y="414.5">11.176</text>
<text x="86.2" y="441.2">6.086</text>
<text x="86.2" y="467.8">0.996</text>
<text x="86.2" y="495">-4.094</text>
<text x="86.2" y="545.4">87.515</text>
<text x="86.2" y="575.5">65.010</text>
<text x="86.2" y="605.4">42.505</text>
</g>
<text x="665" y="23">130.602</text>
<text x="665" y="84.6">115.430</text>
<text x="665" y="146.2">100.259</text>
<text x="665" y="207.8">85.087</text>
<text x="665" y="269.4">69.915</text>
<text x="665" y="331">54.743</text>
<text x="665" y="414.5">11.176</text>
<text x="665" y="441.2">6.086</text>
<text x="665" y="467.8">0.996</text>
<text x="665" y="495">-4.094</text>
<text x="665" y="545.4">87.515</text>
<text x="665" y="575.5">65.010</text>
<text x="665" y="605.4">42.505</text>
</g>
<rect x="661.5" y="266.5" width="70" height="17" fill="#fff" stroke="#ff7a00" stroke-width="1"/>
<g font-family="Liberation Sans, sans-serif" font-size="12" shape-rendering="auto">
<text x="664.5" y="279" fill="#ff7a00">69.845</text>
<text x="623.5" y="258" fill="#0000ff">71.166</text>
<text x="623.5" y="302.5" fill="#0000ff">60.000</text>
<text x="585.3" y="302.5" fill="#4cb48a" font-weight="bold" textLength="38" lengthAdjust="spacing">63.916</text>
<text x="140" y="376.5" fill="#4cb48a" font-weight="bold" textLength="38" lengthAdjust="spacing">45.527</text>
<text x="595.5" y="54" fill="#e9495f" font-weight="bold">121.487</text>
<text x="91" y="403" font-size="12" fill="#111" textLength="85.3" lengthAdjust="spacingAndGlyphs">MACD(26,12,9)</text>
<text x="181" y="403" font-size="12" fill="#3e8ef0" textLength="58.9" lengthAdjust="spacingAndGlyphs">DIFF:0.555</text>
<text x="247.8" y="403" font-size="12" fill="#4cc28a" textLength="58.1" lengthAdjust="spacingAndGlyphs">DEA:5.147</text>
<text x="313.6" y="403" font-size="12" fill="#45b4e6" textLength="76.9" lengthAdjust="spacingAndGlyphs">MACD:-9.184</text>
<text x="91" y="534" font-size="12" fill="#111" textLength="74.8" lengthAdjust="spacingAndGlyphs">RSI(14,14,14)</text>
<text x="170" y="534" font-size="12" fill="#3e8ef0" textLength="67.8" lengthAdjust="spacingAndGlyphs">RSI1:38.864</text>
<text x="244.5" y="534" font-size="12" fill="#4cc28a" textLength="68.0" lengthAdjust="spacingAndGlyphs">RSI2:38.864</text>
<text x="319.8" y="534" font-size="12" fill="#45b4e6" textLength="67.3" lengthAdjust="spacingAndGlyphs">RSI3:38.864</text>
<text x="394.2" y="534" font-size="12" fill="#bbbbbb" textLength="62.0" lengthAdjust="spacingAndGlyphs">L20:20.000</text>
<text x="463.4" y="534" font-size="12" fill="#bbbbbb" textLength="62.0" lengthAdjust="spacingAndGlyphs">L30:30.000</text>
<text x="532.5" y="534" font-size="12" fill="#bbbbbb" textLength="54.5" lengthAdjust="spacingAndGlyphs">L50:50.00</text>
<g font-weight="bold" fill="#2b2f3a">
<text x="165" y="643.5" textLength="44.5" lengthAdjust="spacing">2025/11</text>
<text x="305" y="643.5" textLength="44.5" lengthAdjust="spacing">2025/12</text>
<text x="459" y="643.5" textLength="44.5" lengthAdjust="spacing">2026/01</text>
<text x="606" y="643.5" textLength="44.5" lengthAdjust="spacing">2026/02</text>
</g>
</g>
<!-- sun icon -->
<g shape-rendering="crispEdges"><rect x="27" y="520" width="1" height="2" fill="#ff0000"/><rect x="27" y="532" width="1" height="2" fill="#ff0000"/><rect x="21" y="526" width="2" height="1" fill="#ff0000"/><rect x="33" y="526" width="2" height="1" fill="#ff0000"/><rect x="22" y="521" width="1" height="1" fill="#ff0000"/><rect x="23" y="522" width="1" height="1" fill="#ff0000"/><rect x="33" y="521" width="1" height="1" fill="#ff0000"/><rect x="32" y="522" width="1" height="1" fill="#ff0000"/><rect x="23" y="531" width="1" height="1" fill="#ff0000"/><rect x="22" y="532" width="1" height="1" fill="#ff0000"/><rect x="32" y="531" width="1" height="1" fill="#ff0000"/><rect x="33" y="532" width="1" height="1" fill="#ff0000"/><rect x="26" y="523" width="4" height="1" fill="#000"/><rect x="26" y="530" width="4" height="1" fill="#000"/><rect x="24" y="525" width="1" height="4" fill="#000"/><rect x="31" y="525" width="1" height="4" fill="#000"/><rect x="25" y="524" width="1" height="1" fill="#000"/><rect x="30" y="524" width="1" height="1" fill="#000"/><rect x="25" y="529" width="1" height="1" fill="#000"/><rect x="30" y="529" width="1" height="1" fill="#000"/><rect x="27" y="525" width="2" height="1" fill="#ff0000"/><rect x="26" y="526" width="4" height="2" fill="#ff0000"/><rect x="27" y="528" width="2" height="1" fill="#ff0000"/></g>
</svg>
<div style="position:absolute;left:91px;top:0.5px;font-size:12px;line-height:14px;color:#000;white-space:nowrap;font-weight:500">现货白银</div>
<div style="position:absolute;left:151px;top:0px;font-size:12px;line-height:14px;color:#ff7a00;white-space:nowrap;font-weight:500">日线</div>
<svg width="729" height="20" style="position:absolute;left:0;top:0"><path d="M145,3 H150 Q144.2,8.4 150,14 H145 Z M181,3 H176 Q181.8,8.4 176,14 H181 Z" fill="#ff7a00"/></svg>
<div style="position:absolute;left:19px;top:632px;width:69px;height:18px;box-sizing:border-box;border-left:1px solid #c8d0db;"></div>
<div style="position:absolute;left:33px;top:634px;font-size:13px;line-height:15px;color:#ff7a00;font-weight:bold;white-space:nowrap;">日线</div>
<svg width="80" height="20" style="position:absolute;left:0;top:630px"><path d="M63.6,16 L67.8,7.8 L72,16 Z" fill="#ff7a00"/></svg>
</body></html>
